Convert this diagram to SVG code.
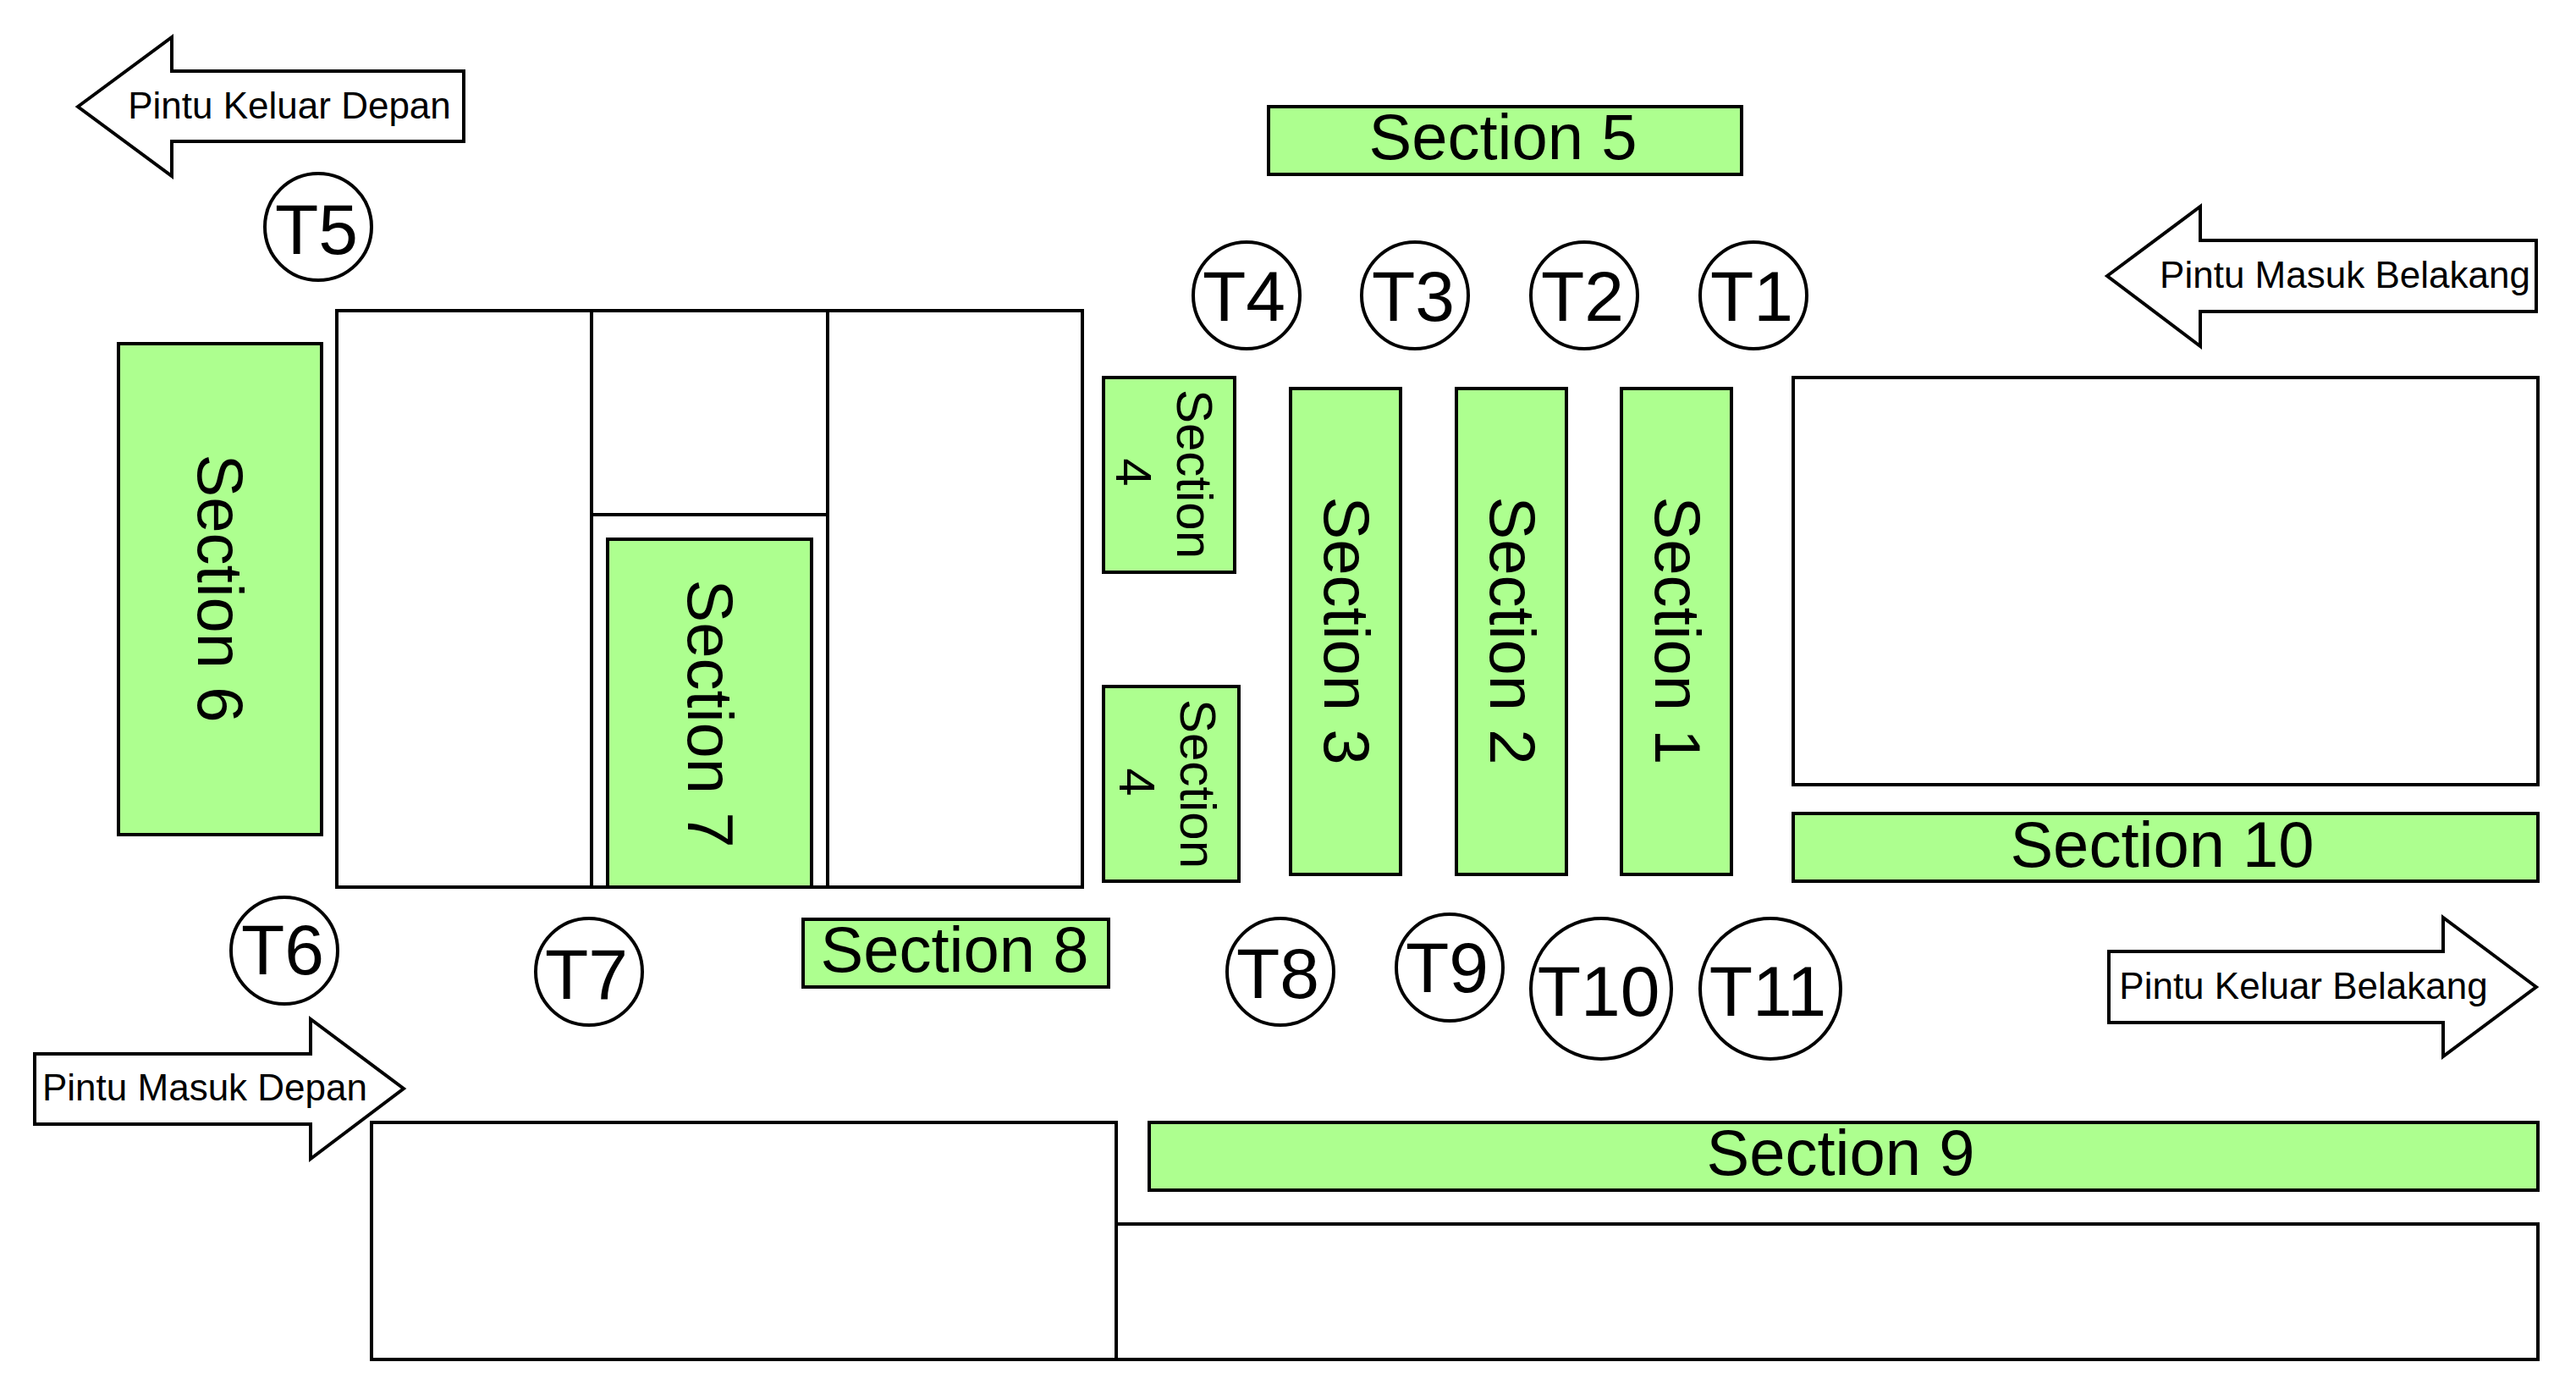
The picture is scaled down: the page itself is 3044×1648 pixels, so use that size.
<svg xmlns="http://www.w3.org/2000/svg" width="3044" height="1648" viewBox="0 0 3044 1648">
<style>
text{font-family:"Liberation Sans",Arial,sans-serif;fill:#000;text-anchor:middle}
.b{fill:#fff;stroke:#000;stroke-width:4}
.g{fill:#adff8f;stroke:#000;stroke-width:4}
.a{fill:#fff;stroke:#000;stroke-width:4}
.e{fill:#fff;stroke:#000;stroke-width:4}
.s{font-size:76px}
.f{font-size:60px}
.l{font-size:44px}
.t{font-size:84px}
</style>
<rect width="3044" height="1648" fill="#fff"/>
<g id="areas">
<rect class="b" x="398" y="367" width="301" height="681"/>
<rect class="b" x="699" y="367" width="279" height="241"/>
<rect class="b" x="699" y="608" width="279" height="440"/>
<rect class="b" x="978" y="367" width="301" height="681"/>
<rect class="b" x="2119" y="446" width="880" height="481"/>
<rect class="b" x="439" y="1326" width="880" height="280"/>
<rect class="b" x="1319" y="1446" width="1680" height="160"/>
</g>
<g id="section5"><rect class="g" x="1499" y="126" width="559" height="80"/><text class="s" x="1776" y="188">Section 5</text></g>
<g id="section6"><rect class="g" x="140" y="406" width="240" height="580"/><text class="s" transform="translate(234 695) rotate(90)">Section 6</text></g>
<g id="section7"><rect class="g" x="718" y="637" width="241" height="411"/><text class="s" transform="translate(813 843) rotate(90)">Section 7</text></g>
<g id="section8"><rect class="g" x="949" y="1086" width="361" height="80"/><text class="s" x="1128" y="1148">Section 8</text></g>
<g id="section9"><rect class="g" x="1358" y="1326" width="1641" height="80"/><text class="s" x="2175" y="1388">Section 9</text></g>
<g id="section10"><rect class="g" x="2119" y="961" width="880" height="80"/><text class="s" x="2555" y="1024">Section 10</text></g>
<g id="section4a"><rect class="g" x="1304" y="446" width="155" height="230"/><text class="f" transform="translate(1391 560) rotate(90)">Section</text><text class="f" transform="translate(1319 558) rotate(90)">4</text></g>
<g id="section4b"><rect class="g" x="1304" y="811" width="160" height="230"/><text class="f" transform="translate(1395 926) rotate(90)">Section</text><text class="f" transform="translate(1323 924) rotate(90)">4</text></g>
<g id="section3"><rect class="g" x="1525" y="459" width="130" height="574"/><text class="s" transform="translate(1565 745) rotate(90)">Section 3</text></g>
<g id="section2"><rect class="g" x="1721" y="459" width="130" height="574"/><text class="s" transform="translate(1761 745) rotate(90)">Section 2</text></g>
<g id="section1"><rect class="g" x="1916" y="459" width="130" height="574"/><text class="s" transform="translate(1956 745) rotate(90)">Section 1</text></g>
<g id="exit-front"><polygon class="a" points="92,126 203,44 203,84 548,84 548,167 203,167 203,208"/><text class="l" x="342" y="140">Pintu Keluar Depan</text></g>
<g id="entry-back"><polygon class="a" points="2490,326 2600,244 2600,284 2997,284 2997,368 2600,368 2600,409"/><text class="l" x="2771" y="340">Pintu Masuk Belakang</text></g>
<g id="entry-front"><polygon class="a" points="477,1286 367,1204 367,1245 41,1245 41,1328 367,1328 367,1369"/><text class="l" x="242" y="1300">Pintu Masuk Depan</text></g>
<g id="exit-back"><polygon class="a" points="2997,1166 2887,1084 2887,1124 2492,1124 2492,1208 2887,1208 2887,1248"/><text class="l" x="2722" y="1180">Pintu Keluar Belakang</text></g>
<g id="t1"><circle class="e" cx="2072" cy="349" r="63"/><text class="t" x="2070" y="379">T1</text></g>
<g id="t2"><circle class="e" cx="1872" cy="349" r="63"/><text class="t" x="1870" y="379">T2</text></g>
<g id="t3"><circle class="e" cx="1672" cy="349" r="63"/><text class="t" x="1670" y="379">T3</text></g>
<g id="t4"><circle class="e" cx="1473" cy="349" r="63"/><text class="t" x="1470" y="379">T4</text></g>
<g id="t5"><circle class="e" cx="376" cy="268" r="63"/><text class="t" x="374" y="300">T5</text></g>
<g id="t6"><circle class="e" cx="336" cy="1123" r="63"/><text class="t" x="334" y="1151">T6</text></g>
<g id="t7"><circle class="e" cx="696" cy="1148" r="63"/><text class="t" x="693" y="1180">T7</text></g>
<g id="t8"><circle class="e" cx="1513" cy="1148" r="63"/><text class="t" x="1510" y="1179">T8</text></g>
<g id="t9"><circle class="e" cx="1713" cy="1143" r="63"/><text class="t" x="1710" y="1172">T9</text></g>
<g id="t10"><circle class="e" cx="1892" cy="1168" r="83"/><text class="t" x="1889" y="1200">T10</text></g>
<g id="t11"><circle class="e" cx="2092" cy="1168" r="83"/><text class="t" x="2089" y="1200">T11</text></g>
</svg>
